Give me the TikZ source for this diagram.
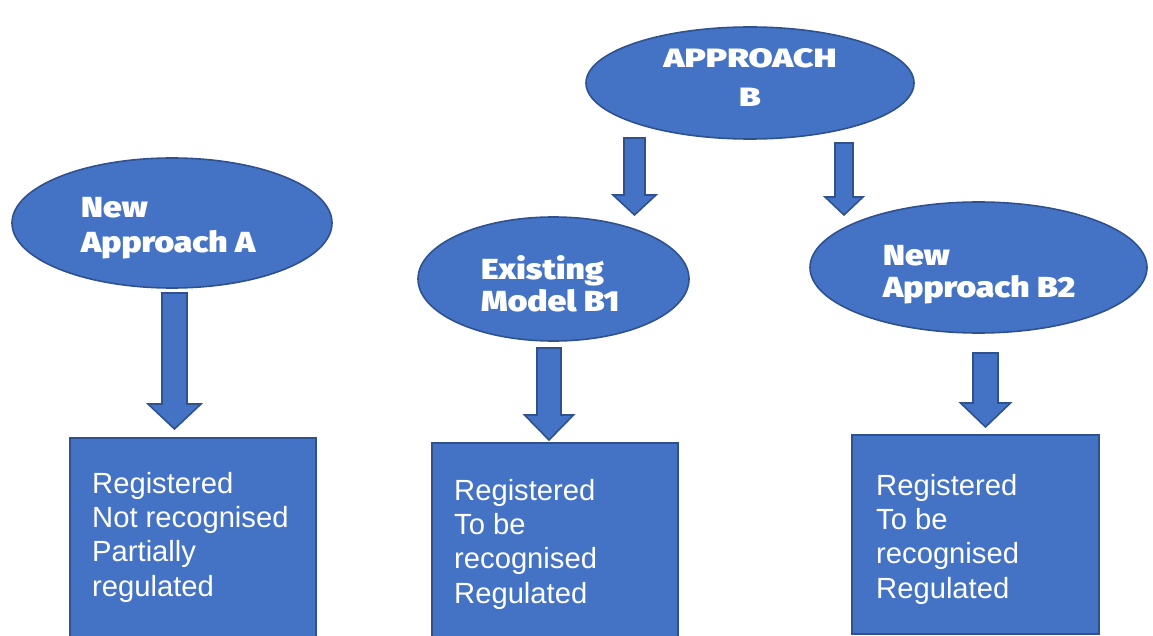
\documentclass[tikz,border=0pt]{standalone}
\usepackage{fontspec}
\setmainfont{Liberation Sans}
\newfontfamily\headfont{Fira Sans Black}[FakeStretch=1.16]
\newfontfamily\headfontwide{Fira Sans Black}[FakeStretch=1.32]
\usetikzlibrary{shapes.geometric}
\definecolor{boxblue}{HTML}{4472C4}
\definecolor{edgeblue}{HTML}{2F528F}
\newcommand\blockarrow[7]{% name, cx, top, headstart, tip, shaft half, head half
  \coordinate (#1-top) at (#2,#3);
  \coordinate (#1-tip) at (#2,#5);
  \draw[blockarrowstyle] ({#2-#6},#3) -- ({#2+#6},#3) -- ({#2+#6},#4) -- ({#2+#7},#4)
    -- (#1-tip) -- ({#2-#7},#4) -- ({#2-#6},#4) -- cycle;}
\begin{document}
\begin{tikzpicture}[x=1pt,y=-1pt,
  shapefill/.style={fill=boxblue, draw=edgeblue, line width=1.6pt},
  oval/.style={shapefill, ellipse, inner sep=0pt},
  panel/.style={shapefill, rectangle, inner sep=0pt},
  blockarrowstyle/.style={shapefill, line join=miter},
  headtext/.style={text=white, inner sep=0pt},
  bodytext/.style={text=white, inner sep=0pt, align=left, anchor=north west,
    font=\fontsize{29.2}{34.3}\selectfont},
]
\useasboundingbox (0,0) rectangle (1153,636);

% ellipses
\node[oval, minimum width=328pt, minimum height=112pt] (B) at (750,83) {};
\node[oval, minimum width=320pt, minimum height=130pt] (A) at (172,223) {};
\node[oval, minimum width=271pt, minimum height=124pt] (B1) at (553.5,279) {};
\node[oval, minimum width=337pt, minimum height=131pt] (B2) at (978.5,267.5) {};

% ellipse labels
\node[headtext, align=center, anchor=north, font=\headfontwide\fontsize{26.5}{39}\selectfont] (Blabel) at (750,48) {APPROACH\\B};
\node[headtext, align=left, anchor=north west, font=\headfont\fontsize{29}{35}\selectfont] (Alabel) at (81,197) {New\\Approach A};
\node[headtext, align=left, anchor=north west, font=\headfont\fontsize{29}{32}\selectfont] (B1label) at (481,255) {Existing\\Model B1};
\node[headtext, align=left, anchor=north west, font=\headfont\fontsize{29}{32}\selectfont] (B2label) at (883,245) {New\\Approach B2};

% boxes
\node[panel, minimum width=246pt, minimum height=210pt] (Abox) at (193,543) {};
\node[panel, minimum width=246pt, minimum height=210pt] (B1box) at (555,548) {};
\node[panel, minimum width=247pt, minimum height=199pt] (B2box) at (975.5,534.5) {};

\node[bodytext] (Atext) at (92,472) {Registered\\Not recognised\\Partially\\regulated};
\node[bodytext] (B1text) at (454,479) {Registered\\To be\\recognised\\Regulated};
\node[bodytext] (B2text) at (876,474) {Registered\\To be\\recognised\\Regulated};

% block arrows
\blockarrow{arrA}{174.5}{293}{404}{429}{12.5}{26.5}
\blockarrow{arrB1}{549}{348}{415}{440}{12}{24.5}
\blockarrow{arrB2}{985.5}{353}{403}{427}{12.5}{25}
\blockarrow{arrBl}{634.5}{138}{195}{215}{10.5}{21.5}
\blockarrow{arrBr}{844}{143}{197}{215}{9}{19}
\end{tikzpicture}
\end{document}
